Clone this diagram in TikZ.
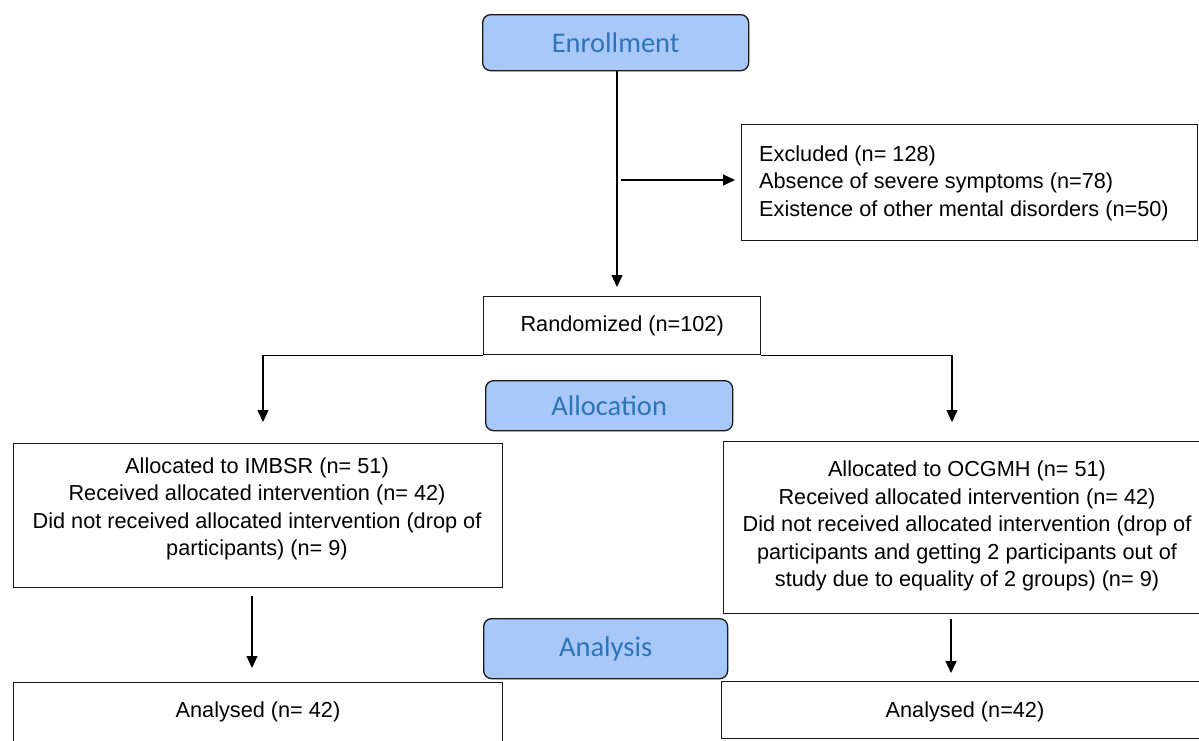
\documentclass[tikz,border=0pt]{standalone}
\usepackage{fontspec}
\setmainfont{Liberation Sans}
\newfontfamily\hfont{Carlito}
\usetikzlibrary{arrows.meta}
\definecolor{hfill}{HTML}{A9C8FA}
\definecolor{htext}{HTML}{2E75B6}
\begin{document}
\begin{tikzpicture}[x=1pt,y=-1pt,
  box/.style={draw=black!90, line width=1.3pt, rectangle, anchor=north west, inner sep=0pt},
  head/.style={draw=black!90, line width=1.3pt, fill=hfill, rounded corners=8pt, anchor=north west,
    inner sep=0pt, font=\hfont\fontsize{28.5}{30}\selectfont, text=htext},
  txt/.style={inner sep=0pt, font=\fontsize{21.7}{27.5}\selectfont},
  arr/.style={line width=1.3pt, -{Triangle[width=11pt,length=12pt]}}]
\useasboundingbox (0,0) rectangle (1199,740);
\clip (0,0) rectangle (1199,740);
\fill[white] (0,0) rectangle (1199,740);

% boxes
\node[head, minimum width=266pt, minimum height=56pt] (enr) at (482,14) {Enrollment};
\node[box, minimum width=456pt, minimum height=116pt] (exc) at (741,124) {};
\node[box, txt, minimum width=277pt, minimum height=58pt] (rnd) at (483,296) {Randomized (n=102)};
\node[head, minimum width=247pt, minimum height=50pt] (alloc) at (485,380) {Allocation};
\node[box, minimum width=489pt, minimum height=144pt] (imb) at (13,443) {};
\node[box, minimum width=489pt, minimum height=172pt] (ocg) at (723,441) {};
\node[head, minimum width=244pt, minimum height=60pt] (ana) at (483,618) {Analysis};
\node[box, minimum width=489pt, minimum height=80pt] (anl) at (13,682) {};
\node[box, minimum width=491pt, minimum height=57pt] (anr) at (721,681) {};

% texts
\node[txt, anchor=west, align=left] (excT) at (759,183)
  {Excluded (n= 128)\\Absence of severe symptoms (n=78)\\Existence of other mental disorders (n=50)};
\node[txt, align=center] (imbT) at (257,509)
  {Allocated to IMBSR (n= 51)\\Received allocated intervention (n= 42)\\Did not received allocated intervention (drop of\\participants) (n= 9)};
\node[txt, align=center] (ocgT) at (967,526)
  {Allocated to OCGMH (n= 51)\\Received allocated intervention (n= 42)\\Did not received allocated intervention (drop of\\participants and getting 2 participants out of\\study due to equality of 2 groups) (n= 9)};
\node[txt] (anlT) at (258,712) {Analysed (n= 42)};
\node[txt] (anrT) at (965,712) {Analysed (n=42)};

% connector end points
\coordinate (t1) at (617,287);
\coordinate (e0) at (621,180);
\coordinate (la) at (263,422);
\coordinate (ra) at (952,422);
\coordinate (lb) at (252,668);
\coordinate (rb) at (951,673);

% connectors
\draw[arr] (enr.south -| t1) -- (t1);
\draw[arr, shorten >=6pt] (e0) -- (exc.west |- e0);
\draw[arr] (rnd.south west) -| (la);
\draw[arr] (rnd.south east) -| (ra);
\draw[arr] (imb.south -| lb) ++(0,8) -- (lb);
\draw[arr] (ocg.south -| rb) ++(0,5) -- (rb);
\end{tikzpicture}
\end{document}
